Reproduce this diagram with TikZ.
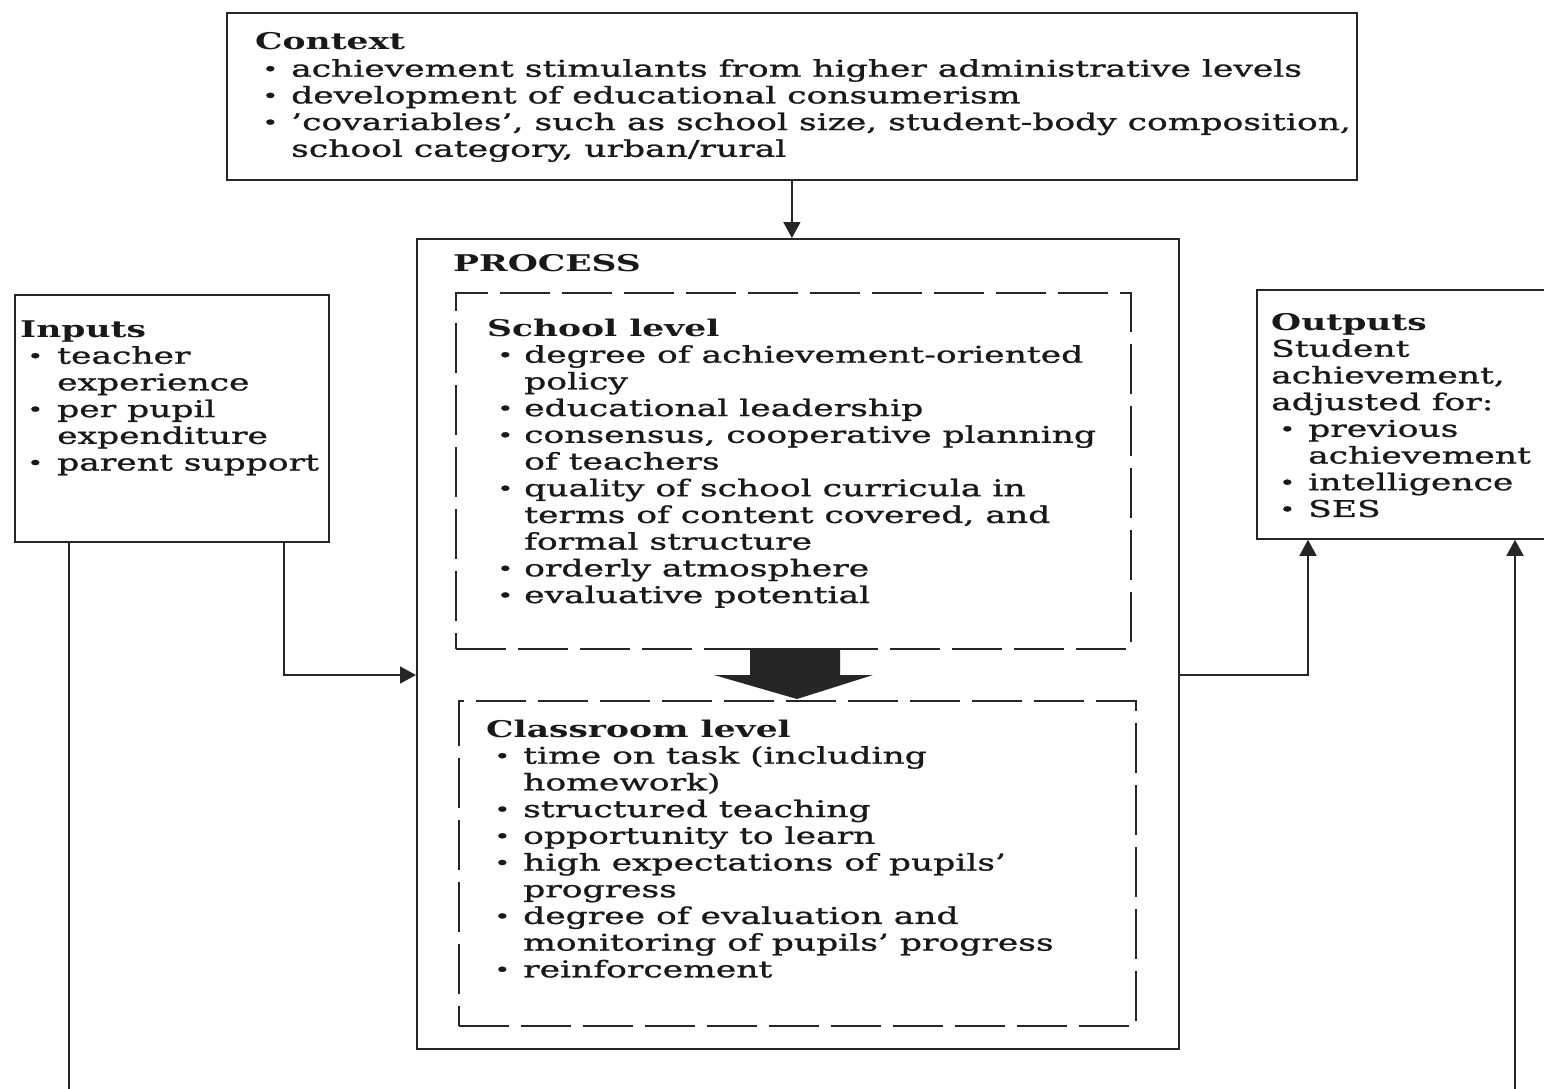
\documentclass[tikz,border=0pt]{standalone}
\usepackage{fontspec}
\setmainfont{DejaVu Serif}[FakeStretch=1.5, UprightFeatures={FakeBold=1.1}]
\usetikzlibrary{arrows.meta}
\newcommand\bul[2]{\hspace*{#1pt}\makebox[#2pt][l]{\raisebox{0.05em}{\scalebox{0.8}{\textbullet}}}}
\newcommand\tx[1]{\fontsize{23}{26.7}\selectfont\begin{tabular}[t]{@{}l@{}}#1\end{tabular}}
\tikzset{
  box/.style={draw=black!85, line width=1.8pt, rectangle, inner sep=0pt, anchor=north west},
  dbox/.style={draw=black!85, line width=1.8pt, rectangle, inner sep=0pt, anchor=north west, dash pattern=on 50pt off 12pt},
  txt/.style={inner sep=0pt, anchor=base west, text=black!90},
  conn/.style={draw=black!85, line width=1.6pt},
  arr/.style={conn, -{Triangle[length=16pt,width=17pt]}},
}
\begin{document}
\begin{tikzpicture}[x=1pt,y=-1pt]
\useasboundingbox[fill=white] (0,0) rectangle (1544,1089);
% boxes
\node[box, minimum width=1130pt, minimum height=167pt] (ctx) at (226,12) {};
\node[box, minimum width=762pt, minimum height=810pt, line width=2pt] (proc) at (416,238) {};
\node[dbox, minimum width=675pt, minimum height=356pt] (school) at (455,292) {};
\node[dbox, minimum width=677pt, minimum height=325pt] (class) at (458,700) {};
\node[box, minimum width=314pt, minimum height=247pt] (inputs) at (14,294) {};
\node[box, minimum width=310pt, minimum height=249pt] (outputs) at (1256,289) {};
% texts
\node[txt] (ctxt) at (255,50) {\tx{\textbf{Context}\\
\bul{7}{29}achievement stimulants from higher administrative levels\\
\bul{7}{29}development of educational consumerism\\
\bul{7}{29}'covariables', such as school size, student-body composition,\\
\hspace*{36pt}school category, urban/rural}};
\node[txt] (proct) at (453,271) {\tx{\textbf{PROCESS}}};
\node[txt] (schoolt) at (487,336) {\tx{\textbf{School level}\\
\bul{10}{27}degree of achievement-oriented\\
\hspace*{37pt}policy\\
\bul{10}{27}educational leadership\\
\bul{10}{27}consensus, cooperative planning\\
\hspace*{37pt}of teachers\\
\bul{10}{27}quality of school curricula in\\
\hspace*{37pt}terms of content covered, and\\
\hspace*{37pt}formal structure\\
\bul{10}{27}orderly atmosphere\\
\bul{10}{27}evaluative potential}};
\node[txt] (classt) at (486,737) {\tx{\textbf{Classroom level}\\
\bul{8}{29}time on task (including\\
\hspace*{37pt}homework)\\
\bul{8}{29}structured teaching\\
\bul{8}{29}opportunity to learn\\
\bul{8}{29}high expectations of pupils'\\
\hspace*{37pt}progress\\
\bul{8}{29}degree of evaluation and\\
\hspace*{37pt}monitoring of pupils' progress\\
\bul{8}{29}reinforcement}};
\node[txt] (inputst) at (20,337) {\tx{\textbf{Inputs}\\
\bul{7}{30}teacher\\
\hspace*{37pt}experience\\
\bul{7}{30}per pupil\\
\hspace*{37pt}expenditure\\
\bul{7}{30}parent support}};
\node[txt] (outputst) at (1271,330) {\tx{\textbf{Outputs}\\
Student\\
achievement,\\
adjusted for:\\
\bul{8}{29}previous\\
\hspace*{37pt}achievement\\
\bul{8}{29}intelligence\\
\bul{8}{29}SES}};
% big block arrow
\fill[black!85] (750,648) -- (840,648) -- (840,675) -- (873,675) -- (797,699) -- (714,675) -- (750,675) -- cycle;
% connectors
\coordinate (a1) at (284,675);
\coordinate (b1) at (69,1089);
\coordinate (c1) at (1308,675);
\coordinate (d1) at (1515,1089);
\draw[arr] (ctx.south) -- (ctx.south |- proc.north);
\draw[arr] (inputs.south -| a1) |- (proc.west |- a1);
\draw[conn] (inputs.south -| b1) -- (b1);
\draw[arr] (proc.east |- c1) -| (outputs.south -| c1);
\draw[arr] (d1) -- (outputs.south -| d1);
\end{tikzpicture}
\end{document}
